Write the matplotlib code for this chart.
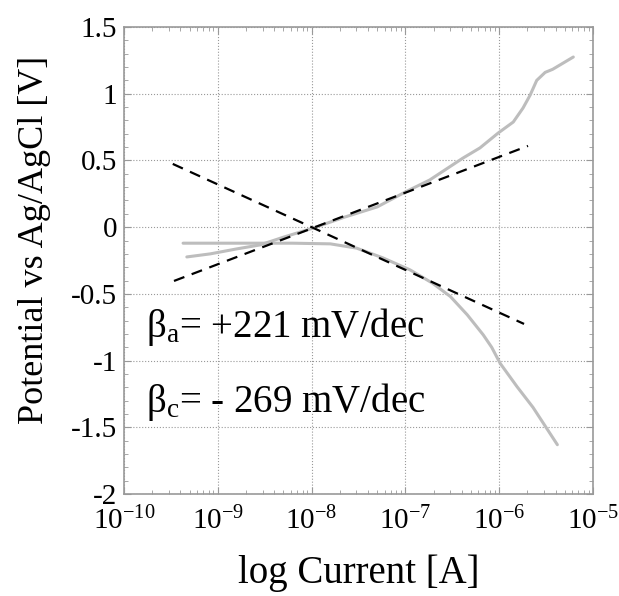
import matplotlib.pyplot as plt
import numpy as np
from matplotlib.ticker import FixedLocator, MultipleLocator, LogLocator, NullFormatter

plt.rcParams['font.family'] = ['Liberation Serif', 'DejaVu Serif']
plt.rcParams['mathtext.fontset'] = 'custom'
plt.rcParams['mathtext.rm'] = 'Liberation Serif'
plt.rcParams['mathtext.it'] = 'Liberation Serif:italic'

# anodic branch (log10 current, potential)
anodic_logi = [-9.33, -9.08, -8.80, -8.55, -8.30, -7.985, -7.65, -7.30, -7.0, -6.74, -6.386,
               -6.205, -6.01, -5.85, -5.746, -5.67, -5.60, -5.51, -5.43, -5.21]
anodic_v = [-0.223, -0.20, -0.163, -0.133, -0.075, -0.007, 0.075, 0.152, 0.264, 0.354, 0.518,
            0.594, 0.706, 0.788, 0.893, 0.99, 1.10, 1.16, 1.183, 1.275]

# cathodic branch
cathodic_logi = [-9.37, -8.8, -8.2, -7.80, -7.52, -7.24, -6.95, -6.71, -6.52, -6.34, -6.17,
                 -6.08, -5.99, -5.81, -5.64, -5.38]
cathodic_v = [-0.12, -0.12, -0.12, -0.125, -0.157, -0.23, -0.32, -0.42, -0.52, -0.657, -0.807,
              -0.90, -1.02, -1.195, -1.35, -1.63]

# Tafel fit lines (end points)
tafel_a_logi = [-9.467, -5.693]
tafel_a_v = [-0.403, 0.609]
tafel_c_logi = [-9.48, -5.735]
tafel_c_v = [0.474, -0.725]

ytick_vals = [1.5, 1, 0.5, 0, -0.5, -1, -1.5, -2]
ytick_labels = ['1.5', '1', '0.5', '0', '-0.5', '-1', '-1.5', '-2']
xtick_exps = [-10, -9, -8, -7, -6, -5]

fig = plt.figure(figsize=(6.19, 5.96), dpi=100)
ax = fig.add_axes([0.2003, 0.171, 0.958 - 0.2003, 0.9547 - 0.171])

gray = '#bdbdbd'
ax.plot(10.0 ** np.array(anodic_logi), anodic_v, color=gray, lw=2.2, solid_capstyle='round')
ax.plot(10.0 ** np.array(cathodic_logi), cathodic_v, color=gray, lw=2.2, solid_capstyle='round')
ax.plot(10.0 ** np.array(tafel_a_logi), tafel_a_v, color='black', lw=1.6, ls=(0, (5, 3.5)))
ax.plot(10.0 ** np.array(tafel_c_logi), tafel_c_v, color='black', lw=1.6, ls=(0, (5, 3.5)))

ax.set_xscale('log')
ax.set_xlim(1e-10, 1e-5)
ax.set_ylim(-2, 1.5)

ax.xaxis.set_major_locator(FixedLocator([10.0 ** e for e in xtick_exps]))
ax.set_xticklabels([r'$10^{\mathrm{%d}}$' % e for e in xtick_exps])
ax.xaxis.set_minor_locator(LogLocator(base=10, subs=np.arange(2, 10), numticks=20))
ax.xaxis.set_minor_formatter(NullFormatter())
ax.set_yticks(ytick_vals)
ax.set_yticklabels(ytick_labels)
ax.yaxis.set_minor_locator(MultipleLocator(0.1))

ax.tick_params(which='both', direction='in', top=True, right=True, color='#999999')
ax.tick_params(axis='y', labelsize=21, pad=5)
ax.tick_params(axis='x', labelsize=21, pad=9)
ax.tick_params(which='major', length=5, width=0.8)
ax.tick_params(which='minor', length=3, width=0.6)
for sp in ax.spines.values():
    sp.set_color('#999999')
    sp.set_linewidth(1.2)

ax.grid(True, which='major', color='#999999', ls=':', lw=0.8)

ax.text(1.72e-10, -0.75, r'β$_{\mathrm{a}}$= +221 mV/dec', fontsize=28, va='center')
ax.text(1.72e-10, -1.31, r'β$_{\mathrm{c}}$= - 269 mV/dec', fontsize=28, va='center')

ax.set_xlabel('log Current [A]', fontsize=28, labelpad=14)
ax.set_ylabel('Potential vs Ag/AgCl [V]', fontsize=26)
ax.yaxis.set_label_coords(-0.155, 0.544)

fig.savefig('out.png', dpi=100)
